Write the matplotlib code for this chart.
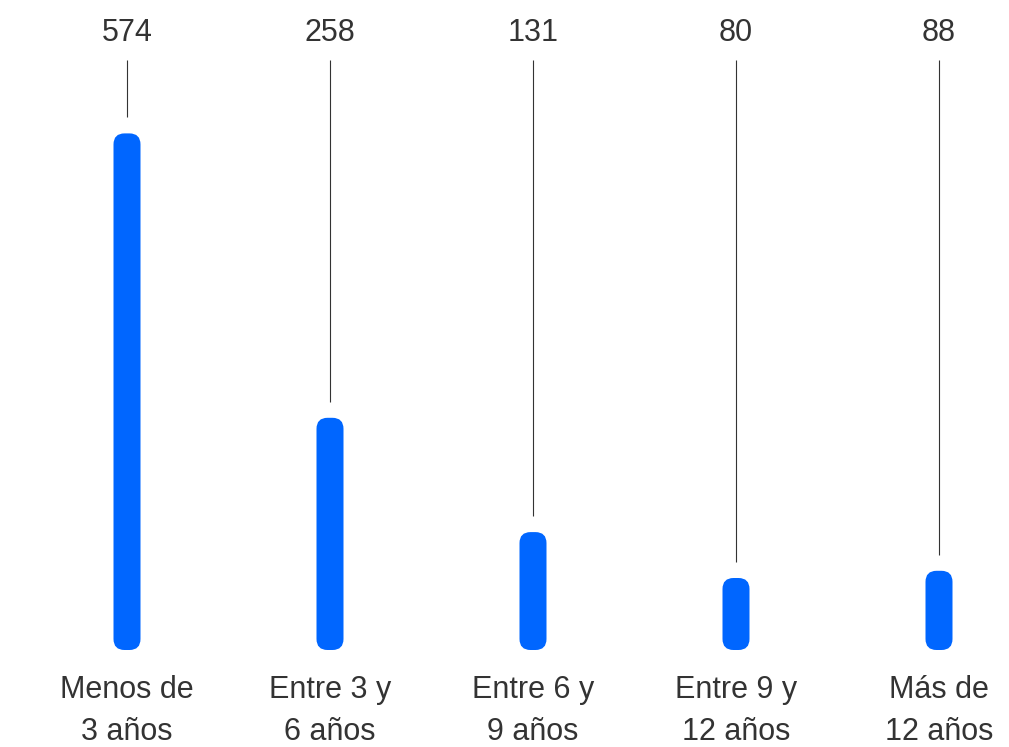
import matplotlib.pyplot as plt
from matplotlib.patches import FancyBboxPatch

categories = ['Menos de\n3 años', 'Entre 3 y\n6 años', 'Entre 6 y\n9 años',
              'Entre 9 y\n12 años', 'Más de\n12 años']
values = [574, 258, 131, 80, 88]

blue = '#0066ff'
text_color = '#333333'

plt.rcParams['font.family'] = ['Liberation Sans', 'DejaVu Sans']

fig = plt.figure(figsize=(10.09, 7.47), dpi=100)
ax = fig.add_axes([0, 0, 1, 1])

# pixel scale: 203 px between bars, 0.9 px per unit in y
px_x = 203.0
px_y = 0.9
ax.set_xlim(-127 / px_x, (1009 - 127) / px_x)
ax.set_ylim(-97 / px_y, 650 / px_y)
ax.axis('off')

xs = list(range(len(values)))
bars = ax.bar(xs, values, width=27 / px_x, color=blue)

# swap the plain rectangles for rounded ones
radius = 11 / px_x
for b in bars:
    x0, y0 = b.get_x(), b.get_y()
    w, h = b.get_width(), b.get_height()
    b.set_visible(False)
    rb = FancyBboxPatch((x0, y0), w, h,
                        boxstyle='round,pad=0,rounding_size=%f' % radius,
                        mutation_aspect=px_x / px_y,
                        facecolor=blue, edgecolor='none')
    ax.add_patch(rb)

label_y = (650 - 33) / px_y
line_top = (650 - 60) / px_y
gap = 16 / px_y
for x, v, cat in zip(xs, values, categories):
    ax.vlines(x, v + gap, line_top, color=text_color, linewidth=0.8)
    ax.text(x, label_y, str(v), ha='center', va='center',
            fontsize=22, color=text_color)
    ax.text(x, (650 - 711) / px_y, cat, ha='center', va='center',
            fontsize=22, color=text_color, linespacing=1.5)

fig.savefig('out.png', dpi=100)
